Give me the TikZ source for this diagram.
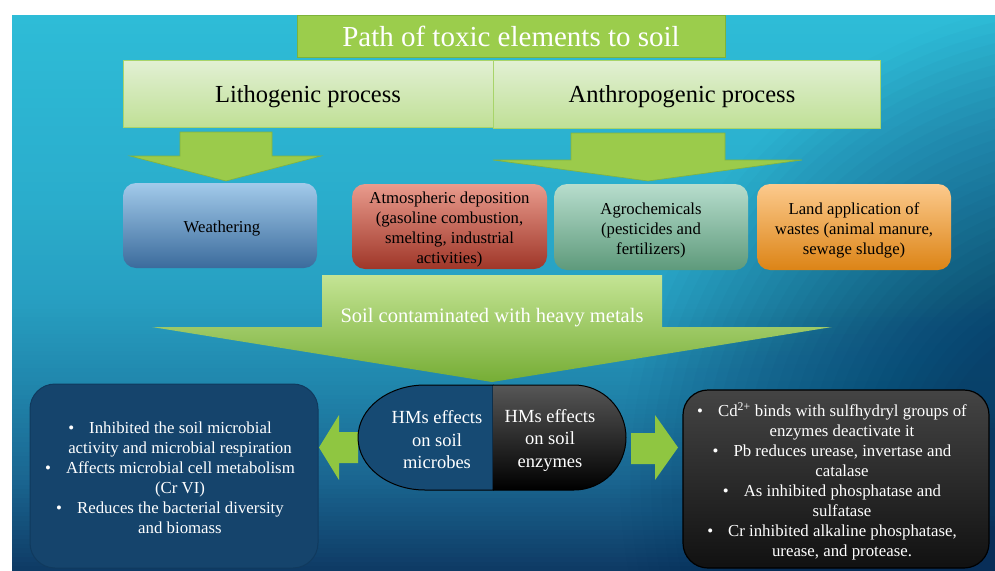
\documentclass[tikz,border=0pt]{standalone}
\usepackage{fontspec}
\setmainfont{Liberation Serif}
\definecolor{bgA}{HTML}{2EBCD7}
\definecolor{bgB}{HTML}{2AADCC}
\definecolor{bgC}{HTML}{279FC1}
\definecolor{bgD}{HTML}{2086AC}
\definecolor{bgE}{HTML}{1A6590}
\definecolor{bgF}{HTML}{0E3A64}
\definecolor{bgnavy}{HTML}{082E58}
\definecolor{titlegreen}{HTML}{9BCD4C}
\definecolor{titleedge}{HTML}{7DB33A}
\definecolor{procA}{HTML}{E2F0D4}
\definecolor{procB}{HTML}{C0E096}
\definecolor{procedge}{HTML}{A8D46A}
\definecolor{arrgreen}{HTML}{9BCB4B}
\definecolor{arrgreenD}{HTML}{82B33E}
\definecolor{soilA}{HTML}{C4E494}
\definecolor{soilB}{HTML}{76AD35}
\definecolor{sidegreen}{HTML}{8FC641}
\definecolor{wA}{HTML}{A2CAEA}
\definecolor{wB}{HTML}{3B6B9C}
\definecolor{aA}{HTML}{E99B8D}
\definecolor{aM}{HTML}{D55B45}
\definecolor{aB}{HTML}{9F3628}
\definecolor{gA}{HTML}{B7DDCD}
\definecolor{gB}{HTML}{5E9A7B}
\definecolor{lA}{HTML}{FCCA8D}
\definecolor{lM}{HTML}{F5A640}
\definecolor{lB}{HTML}{DC8416}
\definecolor{pillblue}{HTML}{164A73}
\definecolor{infoblue}{HTML}{15446C}
\definecolor{infoedge}{HTML}{103A5E}
\definecolor{darkA}{HTML}{444444}
\definecolor{darkB}{HTML}{111111}
\newcommand\bgseg[4]{%
  \foreach \k in {1,...,20}{%
    \pgfmathsetmacro\ya{#1+(\k-1)*(#2-#1)/20}%
    \pgfmathsetmacro\yb{#1+\k*(#2-#1)/20+0.8}%
    \pgfmathsetmacro\pc{5*(\k-0.5)}%
    \fill[#4!\pc!#3] (12,\ya) rectangle (995,\yb);
  }}
\begin{document}
\begin{tikzpicture}[x=1pt,y=-1pt,
  every node/.style={inner sep=0pt, outer sep=0pt},
  procbox/.style={draw=procedge, line width=0.8pt, top color=procA, bottom color=procB},
  proctext/.style={font=\fontsize{24.5}{28}\selectfont, text=black},
  srcbox/.style={rounded corners=13pt, minimum width=194pt, minimum height=85pt},
  srctext/.style={align=center, font=\fontsize{16.7}{20}\selectfont, text=black},
  downarrow/.style={fill=arrgreen, draw=arrgreenD, line width=0.6pt},
  sidearrow/.style={fill=sidegreen},
  pilltext/.style={text=white, align=center, font=\fontsize{18.5}{22.5}\selectfont},
  infotext/.style={text=white, align=center, font=\fontsize{16.8}{20}\selectfont},
]
\useasboundingbox (0,0) rectangle (995,570);
\fill[white] (0,0) rectangle (995,570);
\begin{scope}
  \clip (12,15) rectangle (995,570);
  \bgseg{15}{200}{bgA}{bgB}
  \bgseg{200}{300}{bgB}{bgC}
  \bgseg{300}{385}{bgC}{bgD}
  \bgseg{385}{480}{bgD}{bgE}
  \bgseg{480}{571}{bgE}{bgF}
  \foreach \k in {0,...,30}{%
    \pgfmathsetmacro\rr{480-\k*310/30}%
    \pgfmathsetmacro\Ak{0.75*(\k+0.5)/31}%
    \pgfmathsetmacro\Ap{max(0.75*(\k-0.5)/31,0)}%
    \pgfmathsetmacro\bk{1-(1-\Ak)/(1-\Ap)}%
    \fill[bgnavy, opacity=\bk] (1100,480) circle[radius=\rr];
  }
\end{scope}

% title
\node[draw=titleedge, line width=0.8pt, fill=titlegreen, minimum width=428pt, minimum height=42pt,
  text=white, font=\fontsize{29}{32}\selectfont] (title) at (511,36) {Path of toxic elements to soil};

% process boxes
\node[procbox, minimum width=370pt, minimum height=67pt] (litho) at (308,93.5) {};
\node[proctext] (lithotext) at (308,96.5) {Lithogenic process};
\node[procbox, minimum width=387pt, minimum height=68pt] (anthro) at (686.5,94) {};
\node[proctext] (anthrotext) at (682,97) {Anthropogenic process};

% down arrows
\filldraw[downarrow] (180,132) -- (272,132) -- (272,156) -- (321,156) -- (226,181) -- (130,156) -- (180,156) -- cycle;
\filldraw[downarrow] (571,133) -- (725,133) -- (725,160) -- (802,160) -- (648,181) -- (493,160) -- (571,160) -- cycle;

% source boxes
\node[srcbox, top color=wA, bottom color=wB] (weather) at (220,225.5) {};
\node[srctext] (weathertext) at (222,228.5) {Weathering};
\node[srcbox, minimum width=195pt, top color=aA, middle color=aM, bottom color=aB] (atmos) at (449.5,226.5) {};
\node[srctext] (atmostext) at (449.5,229.5) {Atmospheric deposition\\(gasoline combustion,\\smelting, industrial\\activities)};
\node[srcbox, minimum height=86pt, top color=gA, bottom color=gB] (agro) at (651,227) {};
\node[srctext] (agrotext) at (651,230) {Agrochemicals\\(pesticides and\\fertilizers)};
\node[srcbox, minimum height=86pt, top color=lA, middle color=lM, bottom color=lB] (land) at (854,227) {};
\node[srctext] (landtext) at (854,230) {Land application of\\wastes (animal manure,\\sewage sludge)};

% soil arrow
\shade[top color=soilA, bottom color=soilB] (322,275) -- (662,275) -- (662,327) -- (832,327) -- (492,382) -- (152,327) -- (322,327) -- cycle;
\node[text=white, font=\fontsize{20.5}{24}\selectfont] (soil) at (492,318) {Soil contaminated with heavy metals};

% side arrows
\fill[sidearrow] (358,432) -- (339,432) -- (339,415) -- (319,447.5) -- (339,480) -- (339,463) -- (358,463) -- cycle;
\fill[sidearrow] (631,433) -- (655,433) -- (655,415) -- (678,447.5) -- (655,480) -- (655,464) -- (631,464) -- cycle;

% pill
\filldraw[fill=pillblue, draw=black, line width=1pt] (493,385) -- (425,385)
  .. controls (388,385) and (358,408.5) .. (358,437.5)
  .. controls (358,466.5) and (388,490) .. (425,490) -- (493,490) -- cycle;
\shade[top color=darkA!90, middle color=black, bottom color=black] (493,385) -- (574,385)
  .. controls (602.7,385) and (626,408.5) .. (626,437.5)
  .. controls (626,466.5) and (602.7,490) .. (574,490) -- (493,490) -- cycle;
\draw[black, line width=1pt] (493,385) -- (574,385)
  .. controls (602.7,385) and (626,408.5) .. (626,437.5)
  .. controls (626,466.5) and (602.7,490) .. (574,490) -- (493,490);
\node[pilltext] (microbes) at (437,440) {HMs effects\\on soil\\microbes};
\node[pilltext] (enzymes) at (550,440) {HMs effects\\on soil\\enzymes};

% info boxes
\node[fill=infoblue, draw=infoedge, line width=1pt, rounded corners=25pt, minimum width=288pt, minimum height=184pt] (leftinfo) at (174,476) {};
\node[infotext] (lefttext) at (180,478) {%
\hspace*{-20pt}\textbullet\hspace{15pt}Inhibited the soil microbial\\
activity and microbial respiration\\
\hspace*{-20pt}\textbullet\hspace{15pt}Affects microbial cell metabolism\\
(Cr VI)\\
\hspace*{-20pt}\textbullet\hspace{15pt}Reduces the bacterial diversity\\
and biomass};

\node[draw=black, line width=1.2pt, top color=darkA, bottom color=darkB, rounded corners=25pt, minimum width=306pt, minimum height=178pt] (rightinfo) at (836,479) {};
\node[infotext] (righttext) at (842,481.5) {%
\hspace*{-20pt}\textbullet\hspace{15pt}Cd\textsuperscript{2+} binds with sulfhydryl groups of\\
enzymes deactivate it\\
\hspace*{-20pt}\textbullet\hspace{15pt}Pb reduces urease, invertase and\\
catalase\\
\hspace*{-20pt}\textbullet\hspace{15pt}As inhibited phosphatase and\\
sulfatase\\
\hspace*{-20pt}\textbullet\hspace{15pt}Cr inhibited alkaline phosphatase,\\
urease, and protease.};
\end{tikzpicture}
\end{document}
